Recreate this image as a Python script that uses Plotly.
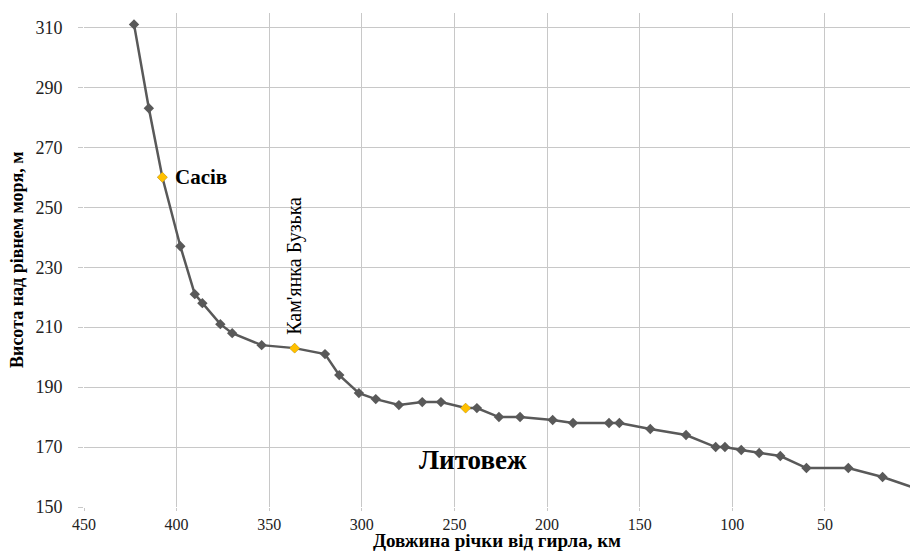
import plotly.graph_objects as go

distance_km = [423, 415, 407.7, 398, 390.2, 386.1, 376.4, 370, 354.1, 336.3,
               319.9, 312.2, 301.6, 292.5, 280, 267.4, 257.3, 244, 237.9, 226,
               214.6, 197, 186, 166.6, 161, 144.3, 125, 109, 104, 95.2,
               85.5, 74.1, 60, 37.4, 18.9, 0]
elevation_m = [311, 283, 260, 237, 221, 218, 211, 208, 204, 203,
               201, 194, 188, 186, 184, 185, 185, 183, 183, 180,
               180, 179, 178, 178, 178, 176, 174, 170, 170, 169,
               168, 167, 163, 163, 160, 156]

settlement_names = ["Сасів", "Кам'янка Бузька", "Литовеж"]
settlement_km = [407.7, 336.3, 244]
settlement_m = [260, 203, 183]

x_ticks = [450, 400, 350, 300, 250, 200, 150, 100, 50, 0]
y_ticks = [150, 170, 190, 210, 230, 250, 270, 290, 310]

FONT = "Liberation Serif"
GREY = "#595959"
GRID = "#c8c8c8"

fig = go.Figure()
fig.add_trace(go.Scatter(
    x=distance_km, y=elevation_m, mode="lines+markers",
    line=dict(color=GREY, width=2.5),
    marker=dict(symbol="diamond", size=8, color=GREY),
    showlegend=False, hoverinfo="x+y"))
fig.add_trace(go.Scatter(
    x=settlement_km, y=settlement_m, mode="markers",
    marker=dict(symbol="diamond", size=8, color="#FFC000"),
    text=settlement_names, showlegend=False))

fig.update_xaxes(
    range=[450, 4.1], tickvals=x_ticks, showgrid=True, gridcolor=GRID, gridwidth=1,
    ticks="outside", ticklen=3, tickcolor=GRID, showline=False, zeroline=False,
    tickfont=dict(family=FONT, size=16, color="#222"))
fig.update_yaxes(
    range=[150, 314.8], tickvals=y_ticks, showgrid=True, gridcolor=GRID, gridwidth=1,
    ticks="outside", ticklen=5, tickcolor=GRID, showline=False, zeroline=False,
    ticklabelstandoff=12,
    tickfont=dict(family=FONT, size=18, color="#222"))

fig.update_layout(
    width=910, height=551,
    margin=dict(l=84, r=0, t=13, b=44),
    plot_bgcolor="white", paper_bgcolor="white",
    font=dict(family=FONT),
    annotations=[
        dict(text="<b>Сасів</b>", x=settlement_km[0], y=settlement_m[0], xref="x", yref="y",
             xanchor="left", yanchor="middle", xshift=11, showarrow=False,
             font=dict(family=FONT, size=21, color="black")),
        dict(text=settlement_names[1], x=settlement_km[1], y=settlement_m[1], xref="x", yref="y",
             xanchor="center", yanchor="bottom", yshift=11, textangle=-90, showarrow=False,
             font=dict(family=FONT, size=20, color="black")),
        dict(text="<b>Литовеж</b>", x=0.471, y=0.095, xref="paper", yref="paper",
             xanchor="center", yanchor="middle", showarrow=False,
             font=dict(family=FONT, size=27, color="black")),
        dict(text="<b>Довжина річки від гирла, км</b>", x=0.5, y=0, xref="paper", yref="paper",
             xanchor="center", yanchor="bottom", yshift=-46, showarrow=False,
             font=dict(family=FONT, size=19, color="black")),
        dict(text="<b>Висота над рівнем моря, м</b>", x=0, y=0.5, xref="paper", yref="paper",
             xanchor="right", yanchor="middle", xshift=-55, textangle=-90, showarrow=False,
             font=dict(family=FONT, size=18, color="black")),
    ])

fig.write_html("out.html", config={"displayModeBar": False},
               post_script="document.body.style.margin='0';")
